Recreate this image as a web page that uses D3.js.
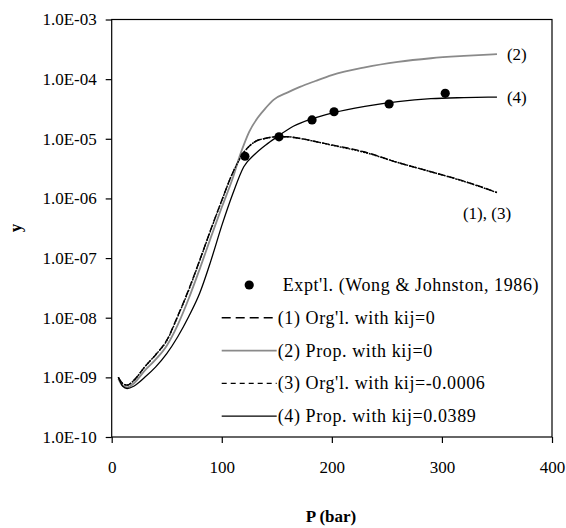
<!DOCTYPE html>
<html lang="en">
  <head>
    <meta charset="UTF-8" />
    <title>Solubility y vs P</title>
    <script src="https://d3js.org/d3.v7.min.js"></script>
    <style>
      body {
        margin: 0;
        background: #fff;
      }
      .axis path,
      .axis line {
        stroke: #000;
        stroke-width: 1.2px;
      }
      .curve {
        fill: none;
      }
      .legend text {
        font-size: 18px;
        letter-spacing: 0.6px;
      }
    </style>
  </head>
  <body>
    <div id="chart"></div>
    <script>
      // experimental points (Wong & Johnston, 1986)
      const exptP = [121, 152, 182, 202, 252, 303];
      const exptY = [5.1e-6, 1.08e-5, 2.07e-5, 2.84e-5, 3.83e-5, 5.78e-5];

      // (1) Org'l. with kij=0
      const c1P = [6, 10, 14, 20, 30, 40, 50, 60, 70, 80, 90, 100, 110, 120, 130, 140, 150, 160, 170, 185, 200, 230, 260, 290, 320, 350];
      const c1Y = [1.0e-9, 7.9e-10, 7.4e-10, 8.9e-10, 1.5e-9, 2.4e-9, 4.2e-9, 1.07e-8, 3.0e-8, 9.3e-8, 3.0e-7, 9.3e-7, 2.7e-6, 5.9e-6, 8.9e-6, 1.02e-5, 1.08e-5, 1.08e-5, 1.02e-5, 9.0e-6, 7.9e-6, 6.0e-6, 4.0e-6, 2.8e-6, 1.95e-6, 1.26e-6];

      // (2) Prop. with kij=0
      const c2P = [6, 10, 14, 20, 30, 40, 50, 60, 70, 80, 90, 100, 110, 117, 120, 125, 133, 140, 147, 160, 171, 185, 200, 230, 260, 290, 320, 350];
      const c2Y = [9.5e-10, 7.2e-10, 6.8e-10, 7.9e-10, 1.3e-9, 2.0e-9, 3.4e-9, 7.6e-9, 2.1e-8, 6.6e-8, 2.2e-7, 7.1e-7, 2.2e-6, 5.6e-6, 7.9e-6, 1.32e-5, 2.3e-5, 3.3e-5, 4.5e-5, 6.0e-5, 7.4e-5, 9.3e-5, 1.17e-4, 1.58e-4, 1.95e-4, 2.24e-4, 2.45e-4, 2.63e-4];

      // (3) Org'l. with kij=-0.0006
      const c3P = [6, 10, 14, 20, 30, 40, 50, 60, 70, 80, 90, 100, 110, 120, 130, 140, 150, 160, 170, 185, 200, 230, 260, 290, 320, 350];
      const c3Y = [1.0e-9, 7.9e-10, 7.4e-10, 8.8e-10, 1.5e-9, 2.4e-9, 4.1e-9, 1.05e-8, 2.9e-8, 9.1e-8, 2.95e-7, 9.2e-7, 2.7e-6, 5.9e-6, 8.9e-6, 1.02e-5, 1.08e-5, 1.08e-5, 1.02e-5, 9.0e-6, 7.8e-6, 5.9e-6, 4.0e-6, 2.8e-6, 1.93e-6, 1.25e-6];

      // (4) Prop. with kij=0.0389
      const c4P = [6, 10, 14, 20, 30, 40, 50, 60, 70, 80, 90, 100, 110, 120, 130, 140, 150, 165, 183, 200, 230, 260, 290, 320, 350];
      const c4Y = [1.0e-9, 7.1e-10, 6.5e-10, 7.1e-10, 1.0e-9, 1.5e-9, 2.5e-9, 4.8e-9, 1.05e-8, 2.6e-8, 8.9e-8, 3.5e-7, 1.2e-6, 3.4e-6, 5.5e-6, 7.9e-6, 1.07e-5, 1.62e-5, 2.2e-5, 2.7e-5, 3.5e-5, 4.2e-5, 4.7e-5, 4.9e-5, 5.0e-5];

      const xTicks = [0, 100, 200, 300, 400];
      const yTicks = [1e-10, 1e-9, 1e-8, 1e-7, 1e-6, 1e-5, 1e-4, 1e-3];

      const legendLabels = [
        "Expt'l. (Wong & Johnston, 1986)",
        "(1) Org'l. with kij=0",
        '(2) Prop. with kij=0',
        "(3) Org'l. with kij=-0.0006",
        '(4) Prop. with kij=0.0389',
      ];

      const FONT = "'Liberation Serif', 'Times New Roman', serif";

      const W = 566,
        H = 528;
      const margin = { top: 19.5, right: 14, bottom: 91, left: 111.7 },
        width = W - margin.left - margin.right,
        height = H - margin.top - margin.bottom;

      const root = d3
        .select('#chart')
        .append('svg')
        .attr('width', W)
        .attr('height', H)
        .attr('font-family', FONT)
        .attr('font-size', 17);
      const svg = root
        .append('g')
        .attr('transform', `translate(${margin.left},${margin.top})`);

      const x = d3.scaleLinear().domain([0, 400]).range([0, width]);
      const y = d3.scaleLog().domain([1e-10, 1e-3]).range([height, 0]);

      const fmtY = (d) =>
        '1.0E-' + String(-Math.round(Math.log10(d))).padStart(2, '0');

      // plot frame (top & right)
      svg
        .append('rect')
        .attr('width', width)
        .attr('height', height)
        .attr('fill', 'none')
        .attr('stroke', '#000')
        .attr('stroke-width', 1.2);

      const xAxis = svg
        .append('g')
        .attr('class', 'axis')
        .attr('transform', `translate(0,${height})`)
        .call(d3.axisBottom(x).tickValues(xTicks).tickSize(6).tickSizeOuter(0));
      xAxis.selectAll('text').attr('y', 36).attr('dy', 0);

      svg
        .append('g')
        .attr('class', 'axis')
        .call(
          d3
            .axisLeft(y)
            .tickValues(yTicks)
            .tickFormat(fmtY)
            .tickSize(6)
            .tickPadding(9)
            .tickSizeOuter(0),
        );
      svg.selectAll('.axis').attr('font-family', FONT).attr('font-size', 17);
      svg.selectAll('.axis text').attr('fill', '#000');
      svg.selectAll('.axis .domain').remove();

      // axis titles
      root
        .append('text')
        .attr('transform', 'translate(21,228) rotate(-90)')
        .attr('text-anchor', 'middle')
        .attr('font-weight', 'bold')
        .text('y');
      root
        .append('text')
        .attr('x', 331)
        .attr('y', 522)
        .attr('text-anchor', 'middle')
        .attr('font-weight', 'bold')
        .text('P (bar)');

      const line = d3
        .line()
        .x((d) => x(d[0]))
        .y((d) => y(d[1]))
        .curve(d3.curveMonotoneX);

      // curve dashes are denser than the legend swatches (many short segments in the original)
      const series = [
        { P: c1P, Y: c1Y, stroke: '#000', dash: '7,3', legDash: '9,5', w: 1.4 },
        { P: c2P, Y: c2Y, stroke: '#8a8a8a', dash: null, legDash: null, w: 1.8 },
        { P: c3P, Y: c3Y, stroke: '#000', dash: '2,1', legDash: '5,4', w: 1.4 },
        { P: c4P, Y: c4Y, stroke: '#000', dash: null, legDash: null, w: 1.3 },
      ];

      svg
        .selectAll('.curve')
        .data(series)
        .enter()
        .append('path')
        .attr('class', 'curve')
        .attr('d', (s) => line(s.P.map((p, i) => [p, s.Y[i]])))
        .attr('stroke', (s) => s.stroke)
        .attr('stroke-width', (s) => s.w)
        .attr('stroke-dasharray', (s) => s.dash);

      svg
        .selectAll('.dot')
        .data(exptP.map((p, i) => [p, exptY[i]]))
        .enter()
        .append('circle')
        .attr('class', 'dot')
        .attr('cx', (d) => x(d[0]))
        .attr('cy', (d) => y(d[1]))
        .attr('r', 4.6)
        .attr('fill', '#000');

      // curve labels
      const endLabels = [
        { t: '(2)', p: 350, v: c2Y[c2Y.length - 1], dx: 10, dy: 6 },
        { t: '(4)', p: 350, v: c4Y[c4Y.length - 1], dx: 10, dy: 6 },
        { t: '(1), (3)', p: 350, v: c1Y[c1Y.length - 1], dx: -34, dy: 27 },
      ];
      svg
        .selectAll('.endlab')
        .data(endLabels)
        .enter()
        .append('text')
        .attr('x', (d) => x(d.p) + d.dx)
        .attr('y', (d) => y(d.v) + d.dy)
        .text((d) => d.t);

      // legend
      const lg = root
        .append('g')
        .attr('class', 'legend')
        .attr('transform', 'translate(221.7,285)');
      const rowH = 32.8;
      legendLabels.forEach((lab, i) => {
        const g = lg.append('g').attr('transform', `translate(0,${i * rowH})`);
        if (i === 0) {
          g.append('circle').attr('cx', 27.5).attr('cy', 0).attr('r', 4.6).attr('fill', '#000');
          g.append('text').attr('x', 61).attr('y', 6).text(lab);
        } else {
          const s = series[i - 1];
          g.append('line')
            .attr('x1', 0)
            .attr('x2', 55)
            .attr('y1', 0)
            .attr('y2', 0)
            .attr('stroke', s.stroke)
            .attr('stroke-width', s.w)
            .attr('stroke-dasharray', s.legDash);
          g.append('text').attr('x', 56).attr('y', 6).text(lab);
        }
      });
    </script>
  </body>
</html>
